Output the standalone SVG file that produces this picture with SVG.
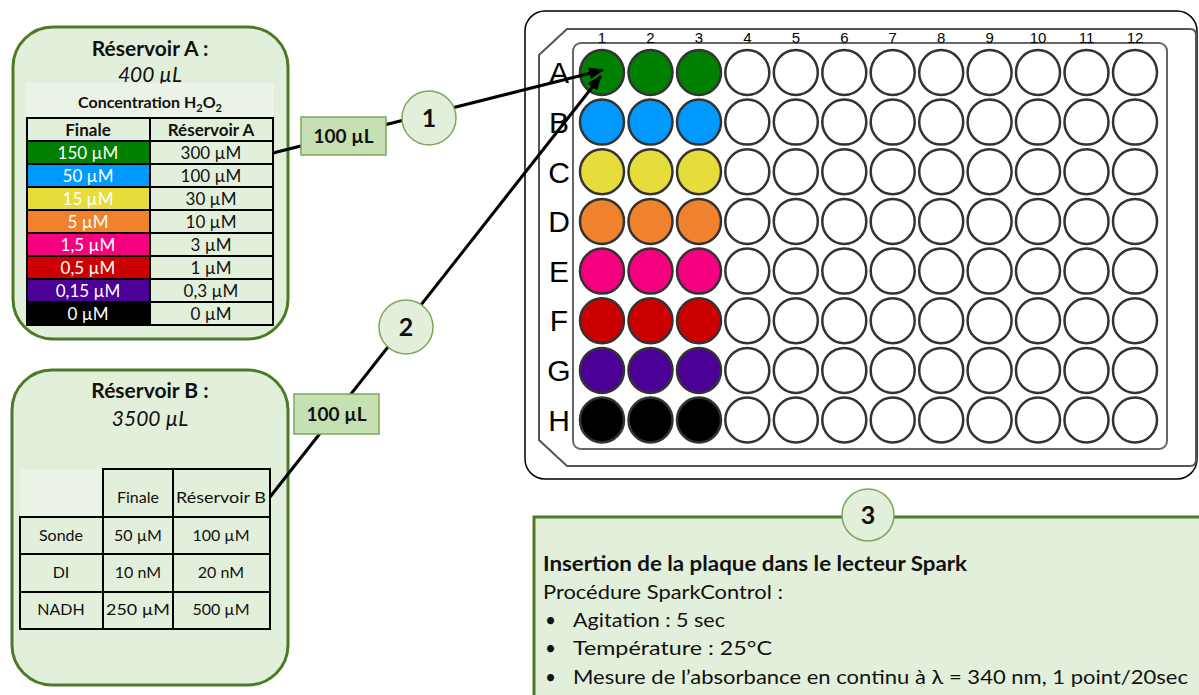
<svg xmlns="http://www.w3.org/2000/svg" width="1199" height="695" viewBox="0 0 1199 695">
<style>
text{font-family:Lato,"Open Sans","Liberation Sans",sans-serif;fill:#111}
.box{fill:#E2EFDA;stroke:#4E7A27;stroke-width:3}
.cell{fill:#E2EFDA;stroke:#000;stroke-width:2}
.lite{fill:#EBF3E6}
.t{font-size:17px;text-anchor:middle}
.tb{font-size:16px;text-anchor:middle}
.w{fill:#fff}
.b{font-weight:bold}
.lbl{fill:#C5E0B3;stroke:#7FA65E;stroke-width:1.5}
.num{fill:#E2EFDA;stroke:#7FA65E;stroke-width:1.5}
.well{stroke:#333;stroke-width:2.5}
.rl{font-family:"Liberation Sans",Arial,sans-serif;font-size:30px;text-anchor:middle;fill:#000}
.cl{font-family:"Liberation Sans",Arial,sans-serif;font-size:15px;text-anchor:middle;fill:#000}
.conn{stroke:#000;stroke-width:3;fill:none}
</style>
<defs>
<marker id="ah" markerUnits="userSpaceOnUse" markerWidth="16" markerHeight="12" refX="14" refY="6" orient="auto">
<path d="M0,0 L15,6 L0,12 Z" fill="#000"/>
</marker>
</defs>

<g id="reservoirA">
<rect class="box" x="13" y="27" width="275" height="312" rx="40"/>
<text class="b" x="150" y="56" font-size="21" text-anchor="middle">Réservoir A :</text>
<text x="150" y="82" font-size="21" font-style="italic" text-anchor="middle">400 µL</text>
<rect class="lite" x="27" y="84" width="246" height="34" stroke="#F4F8F1" stroke-width="1"/>
<text class="b" x="150" y="108" font-size="16" text-anchor="middle">Concentration H<tspan font-size="11" dy="4">2</tspan><tspan dy="-4">O</tspan><tspan font-size="11" dy="4">2</tspan></text>
<rect class="cell" x="27" y="118" width="123" height="23"/>
<rect class="cell" x="150" y="118" width="123" height="23"/>
<text class="t b" x="88" y="136" font-size="16">Finale</text>
<text class="t b" x="211" y="136" font-size="16">Réservoir A</text>
<rect class="cell" x="27" y="141" width="123" height="23" style="fill:#008000"/>
<rect class="cell" x="150" y="141" width="123" height="23"/>
<rect class="cell" x="27" y="164" width="123" height="23" style="fill:#0099FF"/>
<rect class="cell" x="150" y="164" width="123" height="23"/>
<rect class="cell" x="27" y="187" width="123" height="23" style="fill:#E6DC3C"/>
<rect class="cell" x="150" y="187" width="123" height="23"/>
<rect class="cell" x="27" y="210" width="123" height="23" style="fill:#F0822D"/>
<rect class="cell" x="150" y="210" width="123" height="23"/>
<rect class="cell" x="27" y="233" width="123" height="23" style="fill:#F5007F"/>
<rect class="cell" x="150" y="233" width="123" height="23"/>
<rect class="cell" x="27" y="256" width="123" height="23" style="fill:#CC0000"/>
<rect class="cell" x="150" y="256" width="123" height="23"/>
<rect class="cell" x="27" y="279" width="123" height="23" style="fill:#4B0096"/>
<rect class="cell" x="150" y="279" width="123" height="23"/>
<rect class="cell" x="27" y="302" width="123" height="23" style="fill:#000"/>
<rect class="cell" x="150" y="302" width="123" height="23"/>
<text class="t w" x="88" y="159">150 µM</text><text class="t" x="211" y="159">300 µM</text>
<text class="t w" x="88" y="182">50 µM</text><text class="t" x="211" y="182">100 µM</text>
<text class="t w" x="88" y="205">15 µM</text><text class="t" x="211" y="205">30 µM</text>
<text class="t w" x="88" y="228">5 µM</text><text class="t" x="211" y="228">10 µM</text>
<text class="t w" x="88" y="251">1,5 µM</text><text class="t" x="211" y="251">3 µM</text>
<text class="t w" x="88" y="274">0,5 µM</text><text class="t" x="211" y="274">1 µM</text>
<text class="t w" x="88" y="297">0,15 µM</text><text class="t" x="211" y="297">0,3 µM</text>
<text class="t w" x="88" y="320">0 µM</text><text class="t" x="211" y="320">0 µM</text>
</g>

<g id="reservoirB">
<rect class="box" x="12" y="370" width="276" height="315" rx="40"/>
<text class="b" x="150" y="398" font-size="21" text-anchor="middle">Réservoir B :</text>
<text x="150" y="426" font-size="21" font-style="italic" text-anchor="middle">3500 µL</text>
<rect class="lite" x="20" y="469" width="83" height="48"/>
<rect class="cell" x="103" y="469" width="70" height="48"/>
<rect class="cell" x="173" y="469" width="97" height="48"/>
<rect class="cell" x="20" y="517" width="83" height="37"/>
<rect class="cell" x="103" y="517" width="70" height="37"/>
<rect class="cell" x="173" y="517" width="97" height="37"/>
<rect class="cell" x="20" y="554" width="83" height="38"/>
<rect class="cell" x="103" y="554" width="70" height="38"/>
<rect class="cell" x="173" y="554" width="97" height="38"/>
<rect class="cell" x="20" y="592" width="83" height="37"/>
<rect class="cell" x="103" y="592" width="70" height="37"/>
<rect class="cell" x="173" y="592" width="97" height="37"/>
<text class="tb" x="138" y="503">Finale</text>
<text class="tb" x="221" y="503" textLength="90" lengthAdjust="spacingAndGlyphs">Réservoir B</text>
<text class="tb" x="61" y="541">Sonde</text>
<text class="tb" x="138" y="541">50 µM</text>
<text class="tb" x="221" y="541">100 µM</text>
<text class="tb" x="61" y="578">DI</text>
<text class="tb" x="138" y="578">10 nM</text>
<text class="tb" x="221" y="578">20 nM</text>
<text class="tb" x="61" y="615">NADH</text>
<text class="tb" x="138" y="615" textLength="64" lengthAdjust="spacingAndGlyphs">250 µM</text>
<text class="tb" x="221" y="615">500 µM</text>
</g>

<g id="plate">
<rect x="525" y="11" width="672" height="468" rx="20" fill="#fff" stroke="#000" stroke-width="1.5"/>
<path d="M567,29 H1190 Q1196,29 1196,35 V460 Q1196,466 1190,466 H567 L539,440 V55 Z" fill="#fff" stroke="#555" stroke-width="2"/>
<rect x="573" y="43" width="594" height="406" rx="8" fill="#fff" stroke="#666" stroke-width="2"/>
<g id="col-labels">
<text class="cl" x="602" y="43">1</text><text class="cl" x="650.5" y="43">2</text><text class="cl" x="699" y="43">3</text><text class="cl" x="747.3" y="43">4</text><text class="cl" x="795.8" y="43">5</text><text class="cl" x="844.3" y="43">6</text><text class="cl" x="892.7" y="43">7</text><text class="cl" x="941.2" y="43">8</text><text class="cl" x="989.6" y="43">9</text><text class="cl" x="1038" y="43">10</text><text class="cl" x="1086.5" y="43">11</text><text class="cl" x="1135" y="43">12</text>
</g>
<g id="row-labels">
<text class="rl" x="559" y="83">A</text><text class="rl" x="559" y="133">B</text><text class="rl" x="559" y="183">C</text><text class="rl" x="559" y="232">D</text><text class="rl" x="559" y="282">E</text><text class="rl" x="559" y="331">F</text><text class="rl" x="559" y="381">G</text><text class="rl" x="559" y="431">H</text>
</g>
<g id="wells" class="well">
<g fill="#008000"><ellipse cx="602" cy="72.5" rx="22" ry="22.5"/><ellipse cx="650.5" cy="72.5" rx="22" ry="22.5"/><ellipse cx="699" cy="72.5" rx="22" ry="22.5"/></g>
<g fill="#0099FF"><ellipse cx="602" cy="122.1" rx="22" ry="22.5"/><ellipse cx="650.5" cy="122.1" rx="22" ry="22.5"/><ellipse cx="699" cy="122.1" rx="22" ry="22.5"/></g>
<g fill="#E6DC3C"><ellipse cx="602" cy="171.8" rx="22" ry="22.5"/><ellipse cx="650.5" cy="171.8" rx="22" ry="22.5"/><ellipse cx="699" cy="171.8" rx="22" ry="22.5"/></g>
<g fill="#F0822D"><ellipse cx="602" cy="221.4" rx="22" ry="22.5"/><ellipse cx="650.5" cy="221.4" rx="22" ry="22.5"/><ellipse cx="699" cy="221.4" rx="22" ry="22.5"/></g>
<g fill="#F5007F"><ellipse cx="602" cy="271.1" rx="22" ry="22.5"/><ellipse cx="650.5" cy="271.1" rx="22" ry="22.5"/><ellipse cx="699" cy="271.1" rx="22" ry="22.5"/></g>
<g fill="#CC0000"><ellipse cx="602" cy="320.7" rx="22" ry="22.5"/><ellipse cx="650.5" cy="320.7" rx="22" ry="22.5"/><ellipse cx="699" cy="320.7" rx="22" ry="22.5"/></g>
<g fill="#4B0096"><ellipse cx="602" cy="370.4" rx="22" ry="22.5"/><ellipse cx="650.5" cy="370.4" rx="22" ry="22.5"/><ellipse cx="699" cy="370.4" rx="22" ry="22.5"/></g>
<g fill="#000"><ellipse cx="602" cy="420" rx="22" ry="22.5"/><ellipse cx="650.5" cy="420" rx="22" ry="22.5"/><ellipse cx="699" cy="420" rx="22" ry="22.5"/></g>
<g fill="#fff">
<ellipse cx="747.3" cy="72.5" rx="22" ry="22.5"/><ellipse cx="795.8" cy="72.5" rx="22" ry="22.5"/><ellipse cx="844.3" cy="72.5" rx="22" ry="22.5"/><ellipse cx="892.7" cy="72.5" rx="22" ry="22.5"/><ellipse cx="941.2" cy="72.5" rx="22" ry="22.5"/><ellipse cx="989.6" cy="72.5" rx="22" ry="22.5"/><ellipse cx="1038" cy="72.5" rx="22" ry="22.5"/><ellipse cx="1086.5" cy="72.5" rx="22" ry="22.5"/><ellipse cx="1135" cy="72.5" rx="22" ry="22.5"/>
<ellipse cx="747.3" cy="122.1" rx="22" ry="22.5"/><ellipse cx="795.8" cy="122.1" rx="22" ry="22.5"/><ellipse cx="844.3" cy="122.1" rx="22" ry="22.5"/><ellipse cx="892.7" cy="122.1" rx="22" ry="22.5"/><ellipse cx="941.2" cy="122.1" rx="22" ry="22.5"/><ellipse cx="989.6" cy="122.1" rx="22" ry="22.5"/><ellipse cx="1038" cy="122.1" rx="22" ry="22.5"/><ellipse cx="1086.5" cy="122.1" rx="22" ry="22.5"/><ellipse cx="1135" cy="122.1" rx="22" ry="22.5"/>
<ellipse cx="747.3" cy="171.8" rx="22" ry="22.5"/><ellipse cx="795.8" cy="171.8" rx="22" ry="22.5"/><ellipse cx="844.3" cy="171.8" rx="22" ry="22.5"/><ellipse cx="892.7" cy="171.8" rx="22" ry="22.5"/><ellipse cx="941.2" cy="171.8" rx="22" ry="22.5"/><ellipse cx="989.6" cy="171.8" rx="22" ry="22.5"/><ellipse cx="1038" cy="171.8" rx="22" ry="22.5"/><ellipse cx="1086.5" cy="171.8" rx="22" ry="22.5"/><ellipse cx="1135" cy="171.8" rx="22" ry="22.5"/>
<ellipse cx="747.3" cy="221.4" rx="22" ry="22.5"/><ellipse cx="795.8" cy="221.4" rx="22" ry="22.5"/><ellipse cx="844.3" cy="221.4" rx="22" ry="22.5"/><ellipse cx="892.7" cy="221.4" rx="22" ry="22.5"/><ellipse cx="941.2" cy="221.4" rx="22" ry="22.5"/><ellipse cx="989.6" cy="221.4" rx="22" ry="22.5"/><ellipse cx="1038" cy="221.4" rx="22" ry="22.5"/><ellipse cx="1086.5" cy="221.4" rx="22" ry="22.5"/><ellipse cx="1135" cy="221.4" rx="22" ry="22.5"/>
<ellipse cx="747.3" cy="271.1" rx="22" ry="22.5"/><ellipse cx="795.8" cy="271.1" rx="22" ry="22.5"/><ellipse cx="844.3" cy="271.1" rx="22" ry="22.5"/><ellipse cx="892.7" cy="271.1" rx="22" ry="22.5"/><ellipse cx="941.2" cy="271.1" rx="22" ry="22.5"/><ellipse cx="989.6" cy="271.1" rx="22" ry="22.5"/><ellipse cx="1038" cy="271.1" rx="22" ry="22.5"/><ellipse cx="1086.5" cy="271.1" rx="22" ry="22.5"/><ellipse cx="1135" cy="271.1" rx="22" ry="22.5"/>
<ellipse cx="747.3" cy="320.7" rx="22" ry="22.5"/><ellipse cx="795.8" cy="320.7" rx="22" ry="22.5"/><ellipse cx="844.3" cy="320.7" rx="22" ry="22.5"/><ellipse cx="892.7" cy="320.7" rx="22" ry="22.5"/><ellipse cx="941.2" cy="320.7" rx="22" ry="22.5"/><ellipse cx="989.6" cy="320.7" rx="22" ry="22.5"/><ellipse cx="1038" cy="320.7" rx="22" ry="22.5"/><ellipse cx="1086.5" cy="320.7" rx="22" ry="22.5"/><ellipse cx="1135" cy="320.7" rx="22" ry="22.5"/>
<ellipse cx="747.3" cy="370.4" rx="22" ry="22.5"/><ellipse cx="795.8" cy="370.4" rx="22" ry="22.5"/><ellipse cx="844.3" cy="370.4" rx="22" ry="22.5"/><ellipse cx="892.7" cy="370.4" rx="22" ry="22.5"/><ellipse cx="941.2" cy="370.4" rx="22" ry="22.5"/><ellipse cx="989.6" cy="370.4" rx="22" ry="22.5"/><ellipse cx="1038" cy="370.4" rx="22" ry="22.5"/><ellipse cx="1086.5" cy="370.4" rx="22" ry="22.5"/><ellipse cx="1135" cy="370.4" rx="22" ry="22.5"/>
<ellipse cx="747.3" cy="420" rx="22" ry="22.5"/><ellipse cx="795.8" cy="420" rx="22" ry="22.5"/><ellipse cx="844.3" cy="420" rx="22" ry="22.5"/><ellipse cx="892.7" cy="420" rx="22" ry="22.5"/><ellipse cx="941.2" cy="420" rx="22" ry="22.5"/><ellipse cx="989.6" cy="420" rx="22" ry="22.5"/><ellipse cx="1038" cy="420" rx="22" ry="22.5"/><ellipse cx="1086.5" cy="420" rx="22" ry="22.5"/><ellipse cx="1135" cy="420" rx="22" ry="22.5"/>
</g>
</g>
</g>

<g id="step3">
<rect class="box" x="534" y="517" width="680" height="200"/>
<text class="b" x="543" y="571" font-size="20" textLength="424" lengthAdjust="spacingAndGlyphs">Insertion de la plaque dans le lecteur Spark</text>
<text x="543" y="599" font-size="19" textLength="240" lengthAdjust="spacingAndGlyphs">Procédure SparkControl :</text>
<text x="545" y="627" font-size="19">•</text>
<text x="573" y="627" font-size="19" textLength="152" lengthAdjust="spacingAndGlyphs">Agitation : 5 sec</text>
<text x="545" y="655" font-size="19">•</text>
<text x="573" y="655" font-size="19" textLength="199" lengthAdjust="spacingAndGlyphs">Température : 25°C</text>
<text x="545" y="684" font-size="19">•</text>
<text x="573" y="684" font-size="19" textLength="615" lengthAdjust="spacingAndGlyphs">Mesure de l’absorbance en continu à λ = 340 nm, 1 point/20sec</text>
</g>

<g id="connectors">
<line class="conn" x1="273" y1="153" x2="603" y2="70" marker-end="url(#ah)"/>
<line class="conn" x1="270" y1="497" x2="601" y2="76" marker-end="url(#ah)"/>
</g>

<g id="label1">
<rect class="lbl" x="301" y="117" width="85" height="38"/>
<text class="b" x="343.5" y="143" font-size="19" text-anchor="middle">100 µL</text>
</g>
<g id="label2">
<rect class="lbl" x="294" y="394" width="85" height="40"/>
<text class="b" x="336.5" y="421" font-size="19" text-anchor="middle">100 µL</text>
</g>
<g id="step1">
<circle class="num" cx="429" cy="118" r="27"/>
<text class="b" x="429" y="127" font-size="25" text-anchor="middle">1</text>
</g>
<g id="step2">
<circle class="num" cx="406" cy="327" r="27"/>
<text class="b" x="406" y="336" font-size="25" text-anchor="middle">2</text>
</g>
<g id="step3-badge">
<circle class="num" cx="868" cy="515" r="26"/>
<text class="b" x="868" y="524" font-size="25" text-anchor="middle">3</text>
</g>
</svg>
